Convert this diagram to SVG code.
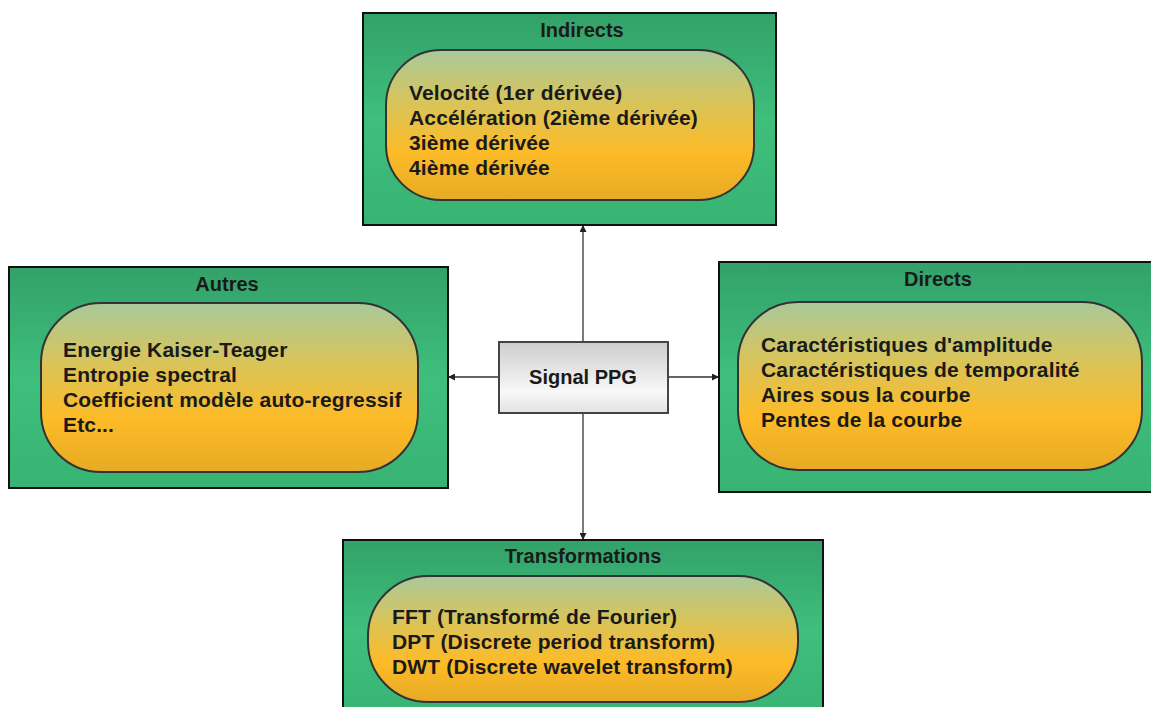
<svg xmlns="http://www.w3.org/2000/svg" width="1151" height="707" viewBox="0 0 1151 707">
<defs>
<linearGradient id="gOuter" x1="0" y1="0" x2="0" y2="1">
<stop offset="0" stop-color="#33a169"/>
<stop offset="0.5" stop-color="#3ebf7c"/>
<stop offset="1" stop-color="#38b373"/>
</linearGradient>
<linearGradient id="gInner" x1="0" y1="0" x2="0" y2="1">
<stop offset="0" stop-color="#a9c99b"/>
<stop offset="0.35" stop-color="#d8c45a"/>
<stop offset="0.68" stop-color="#fdbb28"/>
<stop offset="1" stop-color="#e6aa24"/>
</linearGradient>
<linearGradient id="gSig" x1="0" y1="0" x2="0" y2="1">
<stop offset="0" stop-color="#cdcdcd"/>
<stop offset="0.7" stop-color="#f8f8f8"/>
<stop offset="1" stop-color="#e2e2e2"/>
</linearGradient>
<marker id="arr" viewBox="0 0 10 10" refX="10" refY="5" markerWidth="7" markerHeight="7" markerUnits="userSpaceOnUse" orient="auto">
<path d="M0,0 L10,5 L0,10 z" fill="#222"/>
</marker>
</defs>
<style>
.outer{fill:url(#gOuter);stroke:#111;stroke-width:2}
.inner{fill:url(#gInner);stroke:#333;stroke-width:2}
.title{font-family:"Liberation Sans",Arial,sans-serif;font-weight:bold;font-size:20px;fill:#1a1a1a;text-anchor:middle}
.txt{font-family:"Liberation Sans",Arial,sans-serif;font-weight:bold;font-size:21px;fill:#1a1a1a;letter-spacing:0.15px}
.conn{stroke:#333;stroke-width:1.3;fill:none;marker-end:url(#arr)}
</style>
<rect width="1151" height="707" fill="#ffffff"/>
<g id="connectors">
<line class="conn" x1="583" y1="342" x2="583" y2="225"/>
<line class="conn" x1="583" y1="413" x2="583" y2="540"/>
<line class="conn" x1="499" y1="377" x2="448" y2="377"/>
<line class="conn" x1="668" y1="377" x2="719" y2="377"/>
</g>
<g id="indirects">
<rect class="outer" x="363" y="13" width="413" height="212"/>
<text class="title" x="582" y="37">Indirects</text>
<rect class="inner" x="386" y="50" width="368" height="150" rx="55" ry="55"/>
<text class="txt" x="409" y="100">Velocité (1er dérivée)</text>
<text class="txt" x="409" y="125">Accélération (2ième dérivée)</text>
<text class="txt" x="409" y="150">3ième dérivée</text>
<text class="txt" x="409" y="175">4ième dérivée</text>
</g>
<g id="autres">
<rect class="outer" x="9" y="267" width="439" height="221"/>
<text class="title" x="227" y="291">Autres</text>
<rect class="inner" x="41" y="303" width="377" height="169" rx="60" ry="60"/>
<text class="txt" x="63" y="357">Energie Kaiser-Teager</text>
<text class="txt" x="63" y="382">Entropie spectral</text>
<text class="txt" x="63" y="407">Coefficient modèle auto-regressif</text>
<text class="txt" x="63" y="432">Etc...</text>
</g>
<g id="directs">
<rect class="outer" x="719" y="262" width="440" height="230"/>
<text class="title" x="938" y="286">Directs</text>
<rect class="inner" x="738" y="302" width="404" height="168" rx="60" ry="60"/>
<text class="txt" x="761" y="352">Caractéristiques d'amplitude</text>
<text class="txt" x="761" y="377">Caractéristiques de temporalité</text>
<text class="txt" x="761" y="402">Aires sous la courbe</text>
<text class="txt" x="761" y="427">Pentes de la courbe</text>
</g>
<g id="transformations">
<rect class="outer" x="343" y="540" width="480" height="180"/>
<text class="title" x="583" y="563">Transformations</text>
<rect class="inner" x="368" y="576" width="430" height="126" rx="60" ry="60"/>
<text class="txt" x="392" y="624">FFT (Transformé de Fourier)</text>
<text class="txt" x="392" y="649">DPT (Discrete period transform)</text>
<text class="txt" x="392" y="674">DWT (Discrete wavelet transform)</text>
</g>
<g id="signal">
<rect x="499" y="342" width="169" height="71" fill="url(#gSig)" stroke="#444" stroke-width="2"/>
<text class="title" x="583" y="384" font-size="21">Signal PPG</text>
</g>
</svg>
